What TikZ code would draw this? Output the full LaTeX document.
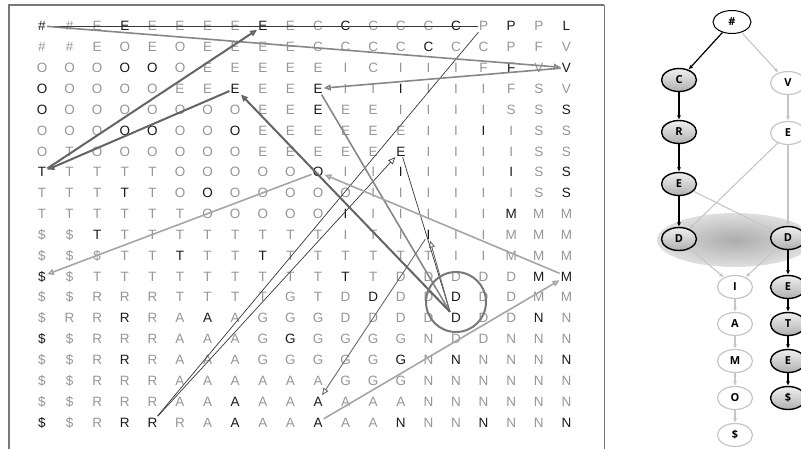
\documentclass[tikz,border=0pt]{standalone}
\usepackage{fontspec}
\setmainfont{Liberation Sans}
\newfontfamily\treefont{Open Sans}
\usetikzlibrary{positioning, arrows.meta, shapes.geometric}

\definecolor{lettergray}{RGB}{150,150,150}
\definecolor{letterdark}{RGB}{25,25,25}
\definecolor{framegray}{RGB}{120,120,120}
\definecolor{vgray}{RGB}{135,135,135}
\definecolor{cgray}{RGB}{55,55,55}
\definecolor{igray}{RGB}{165,165,165}
\definecolor{idgray}{RGB}{105,105,105}
\definecolor{egray}{RGB}{100,100,100}
\newcommand{\dk}[1]{\textcolor{letterdark}{#1}}
% one row of the letter grid: row number, letters
\newcommand{\gridrow}[2]{%
  \foreach \ch [count=\cl] in {#2}{%
    \node[cell] (g#1-\cl) at ({42+27.6*(\cl-1)}, {26+20.85*(#1-1)}) {\ch};
  }%
}

\begin{document}
\begin{tikzpicture}[x=1pt, y=-1pt, >={Triangle[open,length=7pt,width=6pt]},
    node distance=37pt, on grid,
    cell/.style={inner sep=1pt, text height=9.8pt, text depth=0pt, text=lettergray,
                 font=\fontsize{13.5}{13.5}\selectfont},
    vline/.style={draw=vgray, line width=1.6pt},
    cline/.style={draw=cgray, line width=0.7pt},
    iline/.style={draw=igray, line width=1.6pt},
    idline/.style={draw=idgray, line width=0.9pt},
    eline/.style={draw=egray, line width=2pt},
    tnode/.style={ellipse, minimum width=35pt, minimum height=23pt, inner sep=0pt,
                  font=\treefont\bfseries\fontsize{11}{11}\selectfont},
    hashnode/.style={tnode, draw=black, line width=1pt, fill=white, minimum width=38pt},
    onpath/.style={tnode, draw=black, line width=1.4pt, top color=gray!12, bottom color=gray!62},
    offpath/.style={tnode, draw=gray!45, line width=1.2pt, fill=white},
    darkedge/.style={draw=black, line width=1.2pt, -{Latex[length=4.5pt,width=4pt]}},
    lightedge/.style={draw=gray!45, line width=1.1pt, -{Latex[length=4.5pt,width=4pt]}}]
    \useasboundingbox (0,0) rectangle (801,448);

    % Frame
    \draw[framegray, line width=0.8pt] (604,5) -- (604,450);
    \draw[framegray, line width=1.6pt] (9,450) |- (604,5);

    % Letter grid
    \gridrow{1}{\dk{\#}, \#, E, \dk{E}, E, E, E, E, \dk{E}, E, C, \dk{C}, C, C, C, \dk{C}, P, \dk{P}, P, \dk{L}}
    \gridrow{2}{\#, \#, E, O, E, O, E, E, E, E, C, C, C, C, \dk{C}, C, C, P, F, V}
    \gridrow{3}{O, O, O, \dk{O}, \dk{O}, O, E, E, E, E, E, I, C, I, I, I, F, \dk{F}, V, \dk{V}}
    \gridrow{4}{\dk{O}, O, O, O, O, E, E, \dk{E}, E, E, \dk{E}, I, I, \dk{I}, I, I, I, F, S, V}
    \gridrow{5}{\dk{O}, O, O, O, O, O, O, O, E, E, \dk{E}, E, E, I, I, I, I, S, S, \dk{S}}
    \gridrow{6}{O, O, O, \dk{O}, \dk{O}, O, O, \dk{O}, E, E, E, E, E, E, I, I, \dk{I}, I, S, S}
    \gridrow{7}{O, T, O, O, O, O, O, O, E, E, E, E, E, \dk{E}, I, I, I, I, S, S}
    \gridrow{8}{\dk{T}, T, T, T, T, O, O, O, O, O, \dk{O}, I, I, \dk{I}, I, I, I, \dk{I}, S, \dk{S}}
    \gridrow{9}{T, T, T, \dk{T}, T, O, \dk{O}, O, O, O, O, O, I, I, I, I, I, I, S, \dk{S}}
    \gridrow{10}{T, T, T, T, T, T, O, O, O, O, O, \dk{I}, I, I, I, I, I, \dk{M}, M, M}
    \gridrow{11}{\$, \$, \dk{T}, T, T, T, T, T, T, T, T, I, T, I, \dk{I}, I, I, M, M, M}
    \gridrow{12}{\$, \$, \$, T, T, \dk{T}, T, T, \dk{T}, T, T, T, T, T, T, I, I, M, M, M}
    \gridrow{13}{\dk{\$}, \$, T, T, T, T, T, T, T, T, T, \dk{T}, T, D, D, D, D, D, \dk{M}, \dk{M}}
    \gridrow{14}{\$, \$, R, R, R, T, T, T, T, G, T, D, \dk{D}, D, D, \dk{D}, D, D, M, M}
    \gridrow{15}{\$, R, R, \dk{R}, R, A, \dk{A}, A, G, G, G, D, D, D, D, \dk{D}, D, D, \dk{N}, N}
    \gridrow{16}{\dk{\$}, \$, R, R, R, A, A, A, G, \dk{G}, G, G, G, G, N, D, D, N, N, N}
    \gridrow{17}{\$, \$, R, \dk{R}, R, A, A, A, G, G, G, G, G, \dk{G}, N, \dk{N}, N, N, N, \dk{N}}
    \gridrow{18}{\$, \$, R, R, R, A, A, A, A, A, A, G, G, G, N, N, N, N, N, N}
    \gridrow{19}{\$, \$, R, R, R, A, A, \dk{A}, A, A, \dk{A}, A, A, A, N, N, N, N, N, N}
    \gridrow{20}{\dk{\$}, \$, R, \dk{R}, \dk{R}, R, A, \dk{A}, A, A, \dk{A}, A, A, \dk{N}, N, N, \dk{N}, N, N, \dk{N}}

    % Paths through the grid
    \draw[cline] (g1-1) -- (g1-17);
    \draw[cline] (g1-17) -- (g20-5);
    \draw[cline, ->] (g20-5) -- (g7-14);
    \draw[cline] (g7-14) -- (g15-16.north west);
    \draw[vline, ->] (g1-1) -- (g3-20);
    \draw[vline, ->] (g3-20) -- (g4-11);
    \draw[vline] (g4-11) -- (g15-16.north west);
    \draw[idline, ->] (g15-16.north west) -- (g11-15);
    \draw[idline, ->] (g11-15) -- (g19-11);
    \draw[iline, ->] (g20-11) -- (g13-20);
    \draw[iline, ->] (g13-20) -- (g8-11);
    \draw[iline, ->] (g8-11) -- (g13-1);
    \draw[eline, ->] (g15-16.north west) -- (g4-8);
    \draw[eline, ->] (g4-8) -- (g8-1);
    \draw[eline, ->] (g8-1) -- (g1-9);
    \draw[framegray, line width=2pt] (456,302) circle[radius=30pt];

    % Tree
    \shade[inner color=gray!65, outer color=gray!25] (735,240) ellipse [x radius=78pt, y radius=27pt];
    \node[hashnode] (root) at (732,22) {\#};
    \node[onpath] (tC) at (679,80) {C};
    \node[onpath, below=52pt of tC] (tR) {R};
    \node[onpath, below=52pt of tR] (tE1) {E};
    \node[onpath, below=55pt of tE1] (tD1) {D};
    \node[offpath] (tV) at (788,83) {V};
    \node[offpath, below=50pt of tV] (tE2) {E};
    \node[onpath, below=105pt of tE2] (tD2) {D};
    \node[offpath] (tI) at (735,287) {I};
    \node[offpath, below=of tI] (tA) {A};
    \node[offpath, below=of tA] (tM) {M};
    \node[offpath, below=of tM] (tO) {O};
    \node[offpath, below=of tO] (tS1) {\$};
    \node[onpath, below=49pt of tD2] (tE3) {E};
    \node[onpath, below=of tE3] (tT) {T};
    \node[onpath, below=of tT] (tE4) {E};
    \node[onpath, below=of tE4] (tS2) {\$};

    \path
      (root) edge[darkedge]  (tC)
      (root) edge[lightedge] (tV)
      (tC)   edge[darkedge]  (tR)
      (tR)   edge[darkedge]  (tE1)
      (tE1)  edge[darkedge]  (tD1)
      (tE1)  edge[lightedge] (tD2)
      (tV)   edge[lightedge] (tE2)
      (tE2)  edge[lightedge] (tD2)
      (tE2)  edge[lightedge] (tD1)
      (tD1)  edge[lightedge] (tI)
      (tD2)  edge[lightedge] (tI)
      (tI)   edge[lightedge] (tA)
      (tA)   edge[lightedge] (tM)
      (tM)   edge[lightedge] (tO)
      (tO)   edge[lightedge] (tS1)
      (tD2)  edge[darkedge]  (tE3)
      (tE3)  edge[darkedge]  (tT)
      (tT)   edge[darkedge]  (tE4)
      (tE4)  edge[darkedge]  (tS2);
\end{tikzpicture}
\end{document}
